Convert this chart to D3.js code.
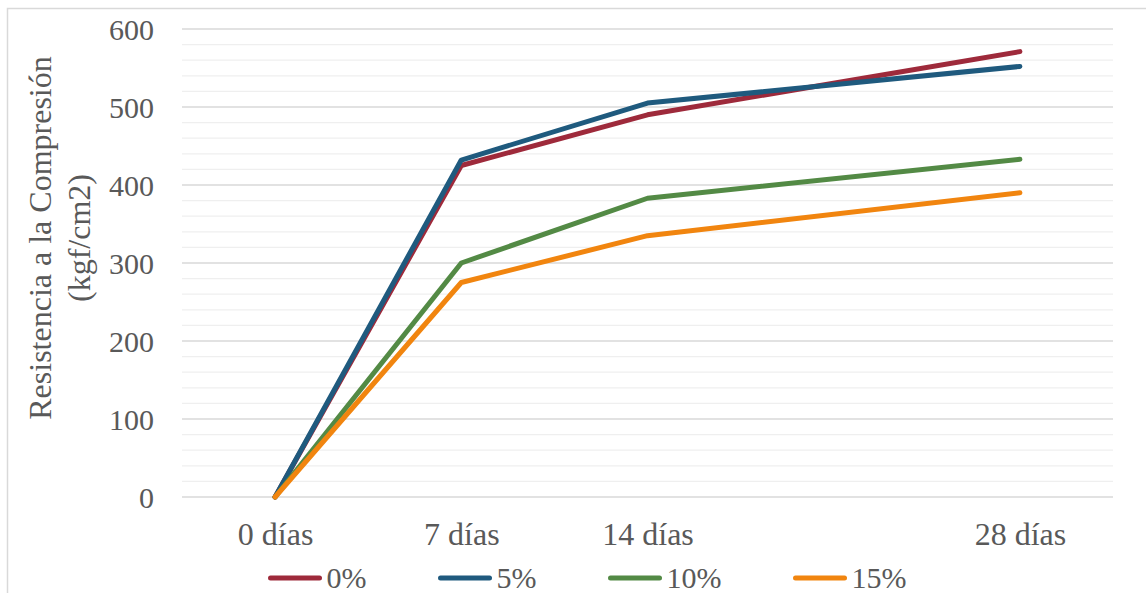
<!DOCTYPE html>
<html>
<head>
<meta charset="utf-8">
<script src="https://cdn.jsdelivr.net/npm/d3@7"></script>
<style>
  html, body { margin: 0; padding: 0; background: #fff; }
  svg { display: block; }
  text { font-family: "Liberation Serif", "Times New Roman", serif; fill: #595959; }
</style>
</head>
<body>
<svg id="chart" width="1146" height="593"></svg>
<script>
// Curing ages (days) and their axis labels
const days = [0, 7, 14, 28];
const dayLabels = ["0 días", "7 días", "14 días", "28 días"];

// Compressive strength (kgf/cm2) per replacement percentage
const seriesNames = ["0%", "5%", "10%", "15%"];
const s0 = [0, 425, 490, 571];
const s5 = [0, 432, 505, 552];
const s10 = [0, 300, 383, 433];
const s15 = [0, 275, 335, 390];
const seriesValues = [s0, s5, s10, s15];
const seriesColors = ["#9E2A3B", "#1F5A7E", "#538A45", "#F1850F"];

const yTicks = [0, 100, 200, 300, 400, 500, 600];
const yTitle = ["Resistencia a la Compresión", "(kgf/cm2)"];

const svg = d3.select("#chart");
const W = 1146, H = 593;

// outer frame
svg.append("rect")
  .attr("x", 7.5).attr("y", 8.5)
  .attr("width", W + 10).attr("height", H + 10)
  .attr("fill", "none").attr("stroke", "#d9d9d9").attr("stroke-width", 1.5);

const plot = { left: 182, right: 1113, top: 29, bottom: 497 };

const x = d3.scaleLinear().domain([-3.5, 31.5]).range([plot.left, plot.right]);
const y = d3.scaleLinear().domain([0, 600]).range([plot.bottom, plot.top]);

// minor gridlines every 20
const minor = d3.range(0, 601, 20).filter(v => v % 100 !== 0);
svg.append("g").selectAll("line").data(minor).join("line")
  .attr("x1", plot.left).attr("x2", plot.right)
  .attr("y1", d => y(d)).attr("y2", d => y(d))
  .attr("stroke", "#efefef").attr("stroke-width", 1.3);

// major gridlines
svg.append("g").selectAll("line").data(yTicks).join("line")
  .attr("x1", plot.left).attr("x2", plot.right)
  .attr("y1", d => y(d)).attr("y2", d => y(d))
  .attr("stroke", "#d9d9d9").attr("stroke-width", 1.5);

// y axis labels
const yAxis = d3.axisLeft(y).tickValues(yTicks).tickSize(0).tickPadding(0);
const gy = svg.append("g").attr("transform", `translate(${154},0)`).call(yAxis);
gy.select(".domain").remove();
gy.selectAll("text")
  .attr("font-size", 30).attr("dy", "0.34em")
  .attr("font-family", "Liberation Serif").attr("fill", "#595959");

// x axis labels
const xAxis = d3.axisBottom(x).tickValues(days).tickFormat((d, i) => dayLabels[i]).tickSize(0).tickPadding(0);
const gx = svg.append("g").attr("transform", `translate(0,${545})`).call(xAxis);
gx.select(".domain").remove();
gx.selectAll("text")
  .attr("font-size", 32).attr("dy", "0")
  .attr("font-family", "Liberation Serif").attr("fill", "#595959");

// y axis title (two lines, rotated)
const title = svg.append("text")
  .attr("transform", `translate(51,238) rotate(-90)`)
  .attr("text-anchor", "middle")
  .attr("font-size", 32);
title.append("tspan").attr("x", 0).attr("dy", 0).text(yTitle[0]);
title.append("tspan").attr("x", 0).attr("dy", 39).text(yTitle[1]);

// series lines
const line = d3.line().x((d, i) => x(days[i])).y(d => y(d));
svg.append("g").selectAll("path").data(seriesValues).join("path")
  .attr("d", d => line(d))
  .attr("fill", "none")
  .attr("stroke", (d, i) => seriesColors[i])
  .attr("stroke-width", 5)
  .attr("stroke-linejoin", "round")
  .attr("stroke-linecap", "round");

// legend
const legend = svg.append("g");
const items = legend.selectAll("g").data(seriesNames).join("g");
items.append("line")
  .attr("x1", 0).attr("x2", 49).attr("y1", 0).attr("y2", 0)
  .attr("stroke", (d, i) => seriesColors[i])
  .attr("stroke-width", 5).attr("stroke-linecap", "round");
items.append("text")
  .attr("x", 56).attr("y", 10)
  .attr("font-size", 30)
  .text(d => d);
let cx = 0;
const gap = 74;
items.each(function () {
  const w = this.getBBox().width;
  d3.select(this).attr("data-x", cx);
  cx += w + gap;
});
const startX = 270.5;
items.attr("transform", function () {
  return `translate(${startX + (+this.getAttribute("data-x"))},578)`;
});
</script>
</body>
</html>
